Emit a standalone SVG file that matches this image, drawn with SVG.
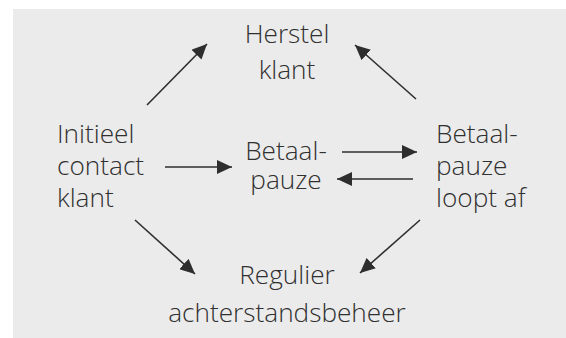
<svg xmlns="http://www.w3.org/2000/svg" width="566" height="338" viewBox="0 0 566 338">
<style>
  .lbl { font-family: "Open Sans", "DejaVu Sans", sans-serif; font-size: 26.2px; font-weight: 300; fill: #303030; }
  .mid { text-anchor: middle; }
  .conn line { stroke: #2e2e2e; stroke-width: 1.6; fill: none; marker-end: url(#ah); }
</style>
<defs>
  <marker id="ah" markerUnits="userSpaceOnUse" markerWidth="16" markerHeight="14" refX="15" refY="7" orient="auto">
    <path d="M0,0 L15,7 L0,14 z" fill="#2e2e2e"/>
  </marker>
</defs>
<rect x="13" y="9" width="553" height="329" fill="#ebebeb"/>
<g id="herstel">
  <text class="lbl mid" x="287" y="43">Herstel</text>
  <text class="lbl mid" x="287" y="79">klant</text>
</g>
<g id="initieel">
  <text class="lbl" x="57" y="143">Initieel</text>
  <text class="lbl" x="57" y="175">contact</text>
  <text class="lbl" x="57" y="207">klant</text>
</g>
<g id="betaalpauze">
  <text class="lbl mid" x="286" y="160">Betaal-</text>
  <text class="lbl mid" x="286" y="189">pauze</text>
</g>
<g id="loopt-af">
  <text class="lbl" x="436" y="143">Betaal-</text>
  <text class="lbl" x="436" y="175">pauze</text>
  <text class="lbl" x="436" y="207">loopt af</text>
</g>
<g id="regulier">
  <text class="lbl mid" x="287" y="284">Regulier</text>
  <text class="lbl mid" x="287" y="322">achterstandsbeheer</text>
</g>
<g id="connectors" class="conn">
  <line x1="147" y1="105" x2="207" y2="44"/>
  <line x1="416" y1="99" x2="355" y2="45"/>
  <line x1="135" y1="220" x2="195" y2="274"/>
  <line x1="420" y1="220" x2="360" y2="273"/>
  <line x1="165" y1="167" x2="232" y2="167"/>
  <line x1="342" y1="152" x2="417" y2="152"/>
  <line x1="413" y1="179" x2="337" y2="179"/>
</g>
</svg>
